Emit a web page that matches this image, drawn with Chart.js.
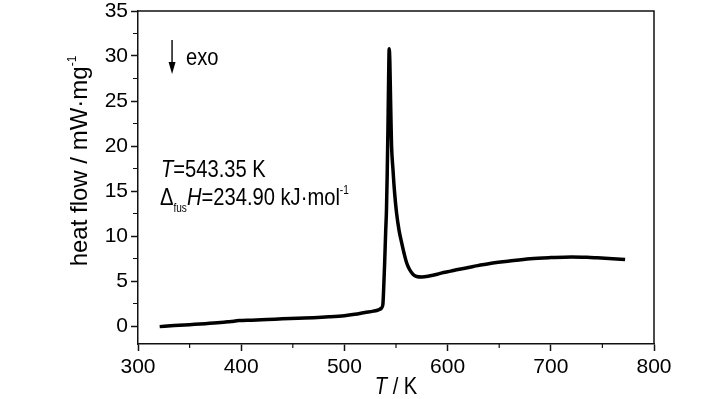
<!DOCTYPE html>
<html>
<head>
<meta charset="utf-8">
<script src="https://cdn.jsdelivr.net/npm/chart.js@4.4.1/dist/chart.umd.min.js"></script>
<style>
  html, body { margin: 0; padding: 0; background: #fff; }
  #wrap { width: 728px; height: 399px; }
</style>
</head>
<body>
<div id="wrap"><canvas id="chart"></canvas></div>
<script>
const temperatura = [321, 335, 350, 365, 380, 390, 398, 410, 425, 440, 455, 470, 485, 500, 510, 520, 528, 533, 536,
  537.3, 538, 539, 540, 540.8, 541.5, 542.2, 542.8, 543.4, 544, 544.6, 545.2, 545.7, 547, 548.5, 550.5, 553, 555.4,
  558, 560.2, 563, 566.6, 570, 575, 582, 590, 596, 603, 610, 625, 641, 660, 680, 700, 720, 735, 745, 760, 772];
const flujo = [-0.07, 0.05, 0.15, 0.25, 0.38, 0.5, 0.6, 0.65, 0.72, 0.8, 0.87, 0.93, 1.02, 1.15, 1.3, 1.5, 1.65, 1.8, 2.0,
  2.4, 4.0, 7.0, 10.5, 13.0, 17, 22, 27, 30.8, 29.5, 26, 22.5, 20, 17.5, 15, 12.6, 10.6, 9.3,
  8.0, 7.06, 6.3, 5.73, 5.5, 5.45, 5.55, 5.75, 5.95, 6.1, 6.28, 6.62, 6.95, 7.22, 7.47, 7.6, 7.68, 7.64, 7.58, 7.48, 7.39];

const ticksX = [300, 400, 500, 600, 700, 800];
const ticksY = [0, 5, 10, 15, 20, 25, 30, 35];

// ver si existe la fuente estrecha
const medir = document.createElement("canvas").getContext("2d");
medir.font = "40px 'Liberation Sans Narrow', monospace";
const w1 = medir.measureText("abcdefgh").width;
medir.font = "40px monospace";
const w2 = medir.measureText("abcdefgh").width;
const hayNarrow = Math.abs(w1 - w2) > 0.5;
const familia = hayNarrow ? "'Liberation Sans Narrow', 'Liberation Sans', Arial" : "'Liberation Sans', Arial";
const escalaX = hayNarrow ? 1 : 0.84;
const tamTicks = hayNarrow ? 23 : 21;

function textoRico(ctx, x, y, partes, tam, escala, fam) {
  let cx = 0;
  ctx.save();
  ctx.translate(x, y);
  ctx.scale(escala, 1);
  ctx.textBaseline = "alphabetic";
  ctx.textAlign = "left";
  for (const [t, e] of partes) {
    let size = tam, dy = 0, it = "";
    if (e === "sub") { size = tam * 0.5; dy = tam * 0.3; }
    if (e === "sup") { size = tam * 0.5; dy = -tam * 0.45; }
    if (e === "i") it = "italic ";
    ctx.font = `${it}${size}px ${fam}`;
    ctx.fillText(t, cx, dy);
    cx += ctx.measureText(t).width;
  }
  ctx.restore();
  return cx * escala;
}

function anchoRico(ctx, partes, tam, fam) {
  let w = 0;
  for (const [t, e] of partes) {
    let size = (e === "sub" || e === "sup") ? tam * 0.5 : tam;
    ctx.font = `${e === "i" ? "italic " : ""}${size}px ${fam}`;
    w += ctx.measureText(t).width;
  }
  return w;
}

const extras = {
  id: "extras",
  afterDraw(chart) {
    const ctx = chart.ctx;
    const a = chart.chartArea;
    const sx = chart.scales.x, sy = chart.scales.y;
    ctx.save();
    ctx.strokeStyle = "#111";
    ctx.lineWidth = 1.5;
    // marco arriba y derecha
    ctx.beginPath();
    ctx.moveTo(a.left, a.top);
    ctx.lineTo(a.right, a.top);
    ctx.lineTo(a.right, a.bottom);
    ctx.stroke();
    // ticks menores
    ctx.lineWidth = 1.2;
    ctx.beginPath();
    for (let v = 350; v < 800; v += 100) {
      const px = sx.getPixelForValue(v);
      ctx.moveTo(px, a.bottom);
      ctx.lineTo(px, a.bottom + 4);
    }
    for (let v = 2.5; v < 35; v += 5) {
      const py = sy.getPixelForValue(v);
      ctx.moveTo(a.left, py);
      ctx.lineTo(a.left - 5, py);
    }
    ctx.stroke();

    ctx.fillStyle = "#000";
    // flecha exo
    const fx = sx.getPixelForValue(333);
    ctx.lineWidth = 1.5;
    ctx.beginPath();
    ctx.moveTo(fx, 40);
    ctx.lineTo(fx, 64);
    ctx.stroke();
    ctx.beginPath();
    ctx.moveTo(fx - 3.5, 62);
    ctx.lineTo(fx + 3.5, 62);
    ctx.lineTo(fx, 74);
    ctx.closePath();
    ctx.fill();
    textoRico(ctx, 186, 65, [["exo", ""]], 24, escalaX, familia);

    // anotaciones
    textoRico(ctx, 161, 177, [["T", "i"], ["=543.35 K", ""]], 24, escalaX, familia);
    textoRico(ctx, 160, 205, [["\u0394", ""], ["fus", "sub"], ["H", "i"], ["=234.90 kJ\u00b7mol", ""], ["-1", "sup"]], 24, escalaX, familia);

    // titulo eje x
    const partesX = [["T", "i"], [" / K", ""]];
    const wx = anchoRico(ctx, partesX, 24, familia) * escalaX;
    textoRico(ctx, (a.left + a.right) / 2 - wx / 2, 394, partesX, 24, escalaX, familia);

    // titulo eje y
    const partesY = [["heat flow / mW\u00b7mg", ""], ["-1", "sup"]];
    const famY = "'Liberation Sans', Arial";
    const wy = anchoRico(ctx, partesY, 24, famY);
    ctx.save();
    ctx.translate(87, 161);
    ctx.rotate(-Math.PI / 2);
    textoRico(ctx, -wy / 2, 0, partesY, 24, 1, famY);
    ctx.restore();
    ctx.restore();
  }
};

new Chart(document.getElementById("chart"), {
  type: "scatter",
  data: {
    datasets: [{
      data: temperatura.map((t, i) => ({ x: t, y: flujo[i] })),
      showLine: true,
      borderColor: "#000",
      borderWidth: 3.5,
      pointRadius: 0,
      cubicInterpolationMode: "monotone",
      fill: false,
    }],
  },
  options: {
    responsive: true,
    maintainAspectRatio: false,
    animation: false,
    layout: { padding: { top: 11, right: 74, left: 0, bottom: 0 } },
    plugins: { legend: { display: false }, tooltip: { enabled: false } },
    scales: {
      x: {
        type: "linear",
        min: 300,
        max: 800,
        afterBuildTicks: (s) => { s.ticks = ticksX.map(v => ({ value: v })); },
        afterFit: (s) => { s.height = 55; s.paddingLeft = 0; s.paddingRight = 0; },
        ticks: { color: "#000", font: { family: familia, size: tamTicks }, padding: 4, maxRotation: 0 },
        grid: { drawOnChartArea: false, tickLength: 7, tickWidth: 1.5, tickColor: "#111" },
        border: { color: "#111", width: 1.5 },
      },
      y: {
        type: "linear",
        min: -2,
        max: 35,
        afterBuildTicks: (s) => { s.ticks = ticksY.map(v => ({ value: v })); },
        afterFit: (s) => { s.width = 138; s.paddingTop = 0; s.paddingBottom = 0; },
        ticks: { color: "#000", font: { family: familia, size: tamTicks }, padding: 3 },
        grid: { drawOnChartArea: false, tickLength: 7, tickWidth: 1.5, tickColor: "#111" },
        border: { color: "#111", width: 1.5 },
      },
    },
  },
  plugins: [extras],
});
</script>
</body>
</html>
